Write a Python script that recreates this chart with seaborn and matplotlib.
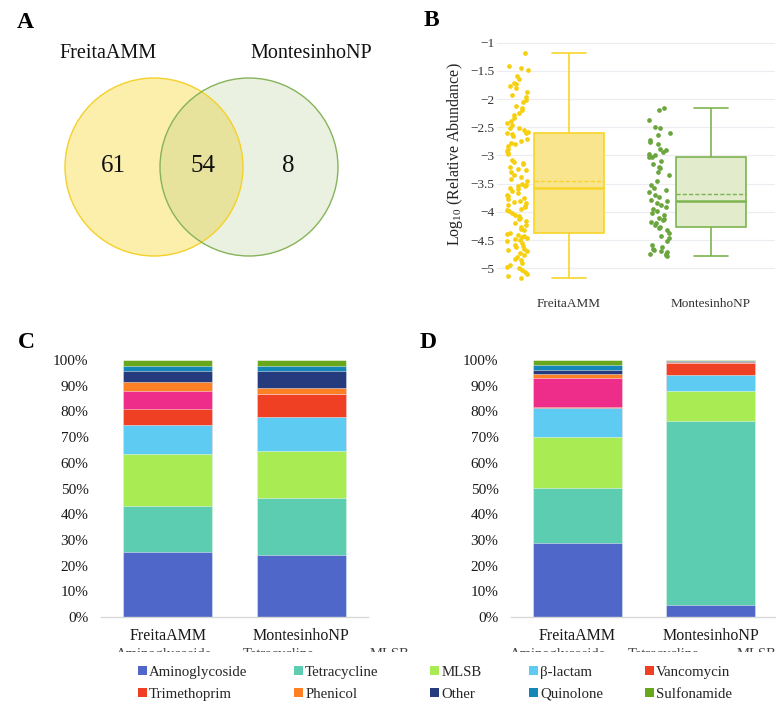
import numpy as np
import pandas as pd
import matplotlib
matplotlib.use("Agg")
import matplotlib.pyplot as plt
from matplotlib.patches import Circle, Patch
import seaborn as sns

# ------------------------------------------------------------------ data
venn_left_name = "FreitaAMM"
venn_right_name = "MontesinhoNP"
venn_only_left = 61
venn_shared = 54
venn_only_right = 8

sites = ["FreitaAMM", "MontesinhoNP"]

freita_log_abund = [
    -1.18, -1.42, -1.45, -1.48,
    -1.59, -1.64, -1.72, -1.74, -1.77, -1.80, -1.88, -1.92, -1.97, -2.01,
    -2.06, -2.12, -2.16, -2.19, -2.24, -2.29, -2.34, -2.39, -2.42, -2.46, -2.51,
    -2.52, -2.55, -2.58, -2.60, -2.60, -2.62, -2.66, -2.70, -2.74, -2.78, -2.80,
    -2.84, -2.88, -2.92, -2.95, -2.98,
    -3.08, -3.11, -3.14, -3.16, -3.20, -3.24, -3.26, -3.30, -3.34, -3.38, -3.42,
    -3.46, -3.50, -3.54,
    -3.52, -3.55, -3.58, -3.60, -3.63, -3.66, -3.70, -3.72, -3.75, -3.78, -3.80,
    -3.83, -3.85, -3.88, -3.90, -3.92, -3.95, -3.97, -3.99,
    -4.02, -4.05, -4.08, -4.10, -4.13, -4.16, -4.20, -4.23, -4.26, -4.30, -4.33,
    -4.37, -4.39, -4.41, -4.43, -4.45, -4.47, -4.48, -4.50,
    -4.52, -4.55, -4.58, -4.60, -4.62, -4.65, -4.68, -4.70, -4.73, -4.76, -4.80,
    -4.83, -4.86, -4.90, -4.94, -4.97,
    -5.00, -5.03, -5.06, -5.10, -5.14, -5.18,
]
montesinho_log_abund = [
    -2.15, -2.19, -2.37,
    -2.50, -2.52, -2.60, -2.63, -2.72, -2.76, -2.80, -2.88, -2.91, -2.94, -2.98,
    -3.00, -3.02, -3.03, -3.10, -3.15, -3.20, -3.22, -3.30, -3.35, -3.45,
    -3.52, -3.58, -3.62, -3.65, -3.70, -3.74, -3.79, -3.81, -3.85, -3.88, -3.92,
    -3.95, -3.98,
    -4.02, -4.05, -4.10, -4.12, -4.15, -4.18, -4.20, -4.23, -4.26, -4.28, -4.32,
    -4.38, -4.42, -4.47,
    -4.52, -4.58, -4.62, -4.65, -4.68, -4.70, -4.72, -4.74, -4.75, -4.77, -4.78,
]
b_yticks = [-1, -1.5, -2, -2.5, -3, -3.5, -4, -4.5, -5]

classes = ["Aminoglycoside", "Tetracycline", "MLSB", "β-lactam", "Vancomycin",
           "Trimethoprim", "Phenicol", "Other", "Quinolone", "Sulfonamide"]
c_freita = [25.4, 17.9, 20.1, 11.2, 6.3, 7.2, 3.2, 4.3, 2.2, 2.2]
c_montesinho = [24.1, 22.3, 18.2, 13.2, 9.0, 0.0, 2.3, 6.5, 2.2, 2.2]
d_freita = [28.7, 21.6, 19.6, 11.6, 0.3, 11.3, 1.6, 1.5, 1.7, 2.1]
d_montesinho = [4.6, 71.7, 11.5, 6.5, 4.5, 0.2, 0.2, 0.3, 0.2, 0.3]
pct_ticks = [0, 10, 20, 30, 40, 50, 60, 70, 80, 90, 100]

# ------------------------------------------------------------------ style
sns.set_theme(style="white")
plt.rcParams["font.family"] = ["Liberation Serif", "DejaVu Serif"]
plt.rcParams["mathtext.fontset"] = "custom"
plt.rcParams["mathtext.rm"] = "Liberation Serif"
plt.rcParams["mathtext.it"] = "Liberation Serif:italic"
plt.rcParams["mathtext.default"] = "regular"

bar_colors = {
    "Aminoglycoside": "#4F67C8", "Tetracycline": "#5DCDB1", "MLSB": "#A9EB52",
    "β-lactam": "#5DCBF2", "Vancomycin": "#EF4023", "Trimethoprim": "#EE2D8B",
    "Phenicol": "#FD8124", "Other": "#263A7E", "Quinolone": "#1486B8",
    "Sulfonamide": "#68A61B",
}
legend_colors = dict(bar_colors)
legend_colors["Trimethoprim"] = "#EF4023"

W, H = 776, 704
fig = plt.figure(figsize=(W / 100, H / 100), dpi=100)


def px_axes(x0, y0, x1, y1):
    return fig.add_axes([x0 / W, 1 - y1 / H, (x1 - x0) / W, (y1 - y0) / H])


# ------------------------------------------------------------------ A: Venn
axA = px_axes(0, 0, 400, 320)
axA.set_xlim(0, 400)
axA.set_ylim(320, 0)
axA.axis("off")
axA.add_patch(Circle((154, 167), 89, facecolor="#F7D117", alpha=0.36, lw=0))
axA.add_patch(Circle((249, 167), 89, facecolor="#8BB558", alpha=0.18, lw=0))
axA.add_patch(Circle((154, 167), 89, facecolor="none", edgecolor="#F4D12A", lw=1.0))
axA.add_patch(Circle((249, 167), 89, facecolor="none", edgecolor="#86B35A", lw=1.0))
axA.text(108, 53, venn_left_name, ha="center", va="center", fontsize=14.5, color="#111")
axA.text(311, 53, venn_right_name, ha="center", va="center", fontsize=14.5, color="#111")
axA.text(113, 166, str(venn_only_left), ha="center", va="center", fontsize=18, color="#111")
axA.text(203, 166, str(venn_shared), ha="center", va="center", fontsize=18, color="#111")
axA.text(288, 166, str(venn_only_right), ha="center", va="center", fontsize=18, color="#111")

# ------------------------------------------------------------------ B: box
axB = px_axes(497, 34.2, 775, 285.2)
df_b = pd.DataFrame({
    "site": ["FreitaAMM"] * len(freita_log_abund) + ["MontesinhoNP"] * len(montesinho_log_abund),
    "val": freita_log_abund + montesinho_log_abund,
})
box_style = {
    "FreitaAMM": dict(fill="#F9E58E", edge="#F7D52A", pt="#F6D00E"),
    "MontesinhoNP": dict(fill="#E2EBCC", edge="#7DB44F", pt="#6AA63D"),
}
for s in sites:
    sub = df_b[df_b["site"] == s]
    st = box_style[s]
    sns.boxplot(data=sub, x="site", y="val", order=sites, color=st["fill"],
                linecolor=st["edge"], saturation=1, width=0.49, linewidth=1.2,
                showmeans=True, meanline=True,
                meanprops=dict(color=st["edge"], linestyle=(0, (3, 1.5)), linewidth=1.0),
                medianprops=dict(color=st["edge"], linewidth=1.8),
                showfliers=False, ax=axB)
    n0 = len(axB.collections)
    sns.stripplot(data=sub, x="site", y="val", order=sites, color=st["pt"],
                  size=3.4, jitter=0.075, linewidth=0, ax=axB)
    for coll in axB.collections[n0:]:
        off = np.array(coll.get_offsets())
        if len(off):
            off[:, 0] -= 0.365
            coll.set_offsets(off)

axB.set_xlim(-0.507, 1.451)
axB.set_ylim(-5.3, -0.85)
axB.set_yticks(b_yticks)
axB.set_yticklabels([f"{t:g}".replace("-", "\u2212") for t in b_yticks])
axB.set_xlabel("")
axB.set_ylabel("Log$_{10}$ (Relative Abundance)", fontsize=11.5, color="#222")
axB.yaxis.set_label_coords(-0.115, 0.52)
axB.tick_params(axis="y", length=0, pad=2, labelsize=9.5, labelcolor="#333")
axB.tick_params(axis="x", length=0, pad=9, labelsize=9.5, labelcolor="#333")
axB.yaxis.grid(True, color="#ECECF2", lw=0.8)
axB.xaxis.grid(False)
axB.set_axisbelow(True)
for sp in axB.spines.values():
    sp.set_visible(False)


# ------------------------------------------------------------------ C / D stacked
def stacked(ax, fr, mo):
    df = pd.DataFrame({
        "site": np.repeat(sites, len(classes)),
        "cls": classes * 2,
        "pct": fr + mo,
    })
    df["cum"] = df.groupby("site")["pct"].cumsum()
    for cls in classes[::-1]:
        sub = df[df["cls"] == cls]
        sns.barplot(data=sub, x="site", y="cum", order=sites, color=bar_colors[cls],
                    saturation=1, width=0.667, edgecolor=(1, 1, 1, 0.55),
                    linewidth=0.6, errorbar=None, ax=ax)
    ax.set_xlim(-0.5, 1.5)
    ax.set_ylim(0, 100.8)
    ax.set_yticks(pct_ticks)
    ax.set_yticklabels([f"{t}%" for t in pct_ticks])
    ax.set_xlabel("")
    ax.set_ylabel("")
    ax.tick_params(axis="y", length=0, pad=9, labelsize=11, labelcolor="#1a1a1a")
    ax.tick_params(axis="x", length=0, pad=8, labelsize=11.5, labelcolor="#1a1a1a")
    for k, sp in ax.spines.items():
        sp.set_visible(k == "bottom")
    ax.spines["bottom"].set_color("#D9D9D9")
    ax.spines["bottom"].set_linewidth(1.0)
    ax.grid(False)


axC = px_axes(101, 358, 368, 617)
stacked(axC, c_freita, c_montesinho)
axD = px_axes(511, 358, 777, 617)
stacked(axD, d_freita, d_montesinho)

# clipped remnant row (tops of a cut-off legend) under the bar charts
axR = px_axes(95, 648, 776, 651.5)
axR.set_xlim(95, 776)
axR.set_ylim(651.5, 648)
axR.axis("off")
for x0, txt in [(116, "Aminoglycoside"), (243, "Tetracycline"), (370, "MLSB"),
                (510, "Aminoglycoside"), (628, "Tetracycline"), (737, "MLSB")]:
    t = axR.text(x0, 648.3, txt, ha="left", va="top", fontsize=10.5, color="#444",
                 clip_on=True)
    t.set_clip_box(axR.bbox)

# ------------------------------------------------------------------ legend (one column block each)
legend_cols = [
    ("Aminoglycoside", "Trimethoprim", 138),
    ("Tetracycline", "Phenicol", 294),
    ("MLSB", "Other", 430),
    ("β-lactam", "Quinolone", 529),
    ("Vancomycin", "Sulfonamide", 645),
]
for top_lab, bot_lab, xm in legend_cols:
    hs = [Patch(facecolor=legend_colors[c], edgecolor="none", label=c) for c in (top_lab, bot_lab)]
    fig.legend(handles=hs, loc="upper left", bbox_to_anchor=(xm / W, 1 - 666 / H),
               ncol=1, frameon=False, fontsize=10.7, handlelength=0.6,
               handleheight=0.6, handletextpad=0.15, labelspacing=0.6,
               borderpad=0, borderaxespad=0)

# ------------------------------------------------------------------ panel labels
for lab, x, y in [("A", 25, 22), ("B", 431, 21), ("C", 26, 342), ("D", 428, 342)]:
    fig.text(x / W, 1 - y / H, lab, ha="center", va="center", fontsize=17,
             fontweight="bold", color="#000")

fig.savefig("out.png", dpi=100)
